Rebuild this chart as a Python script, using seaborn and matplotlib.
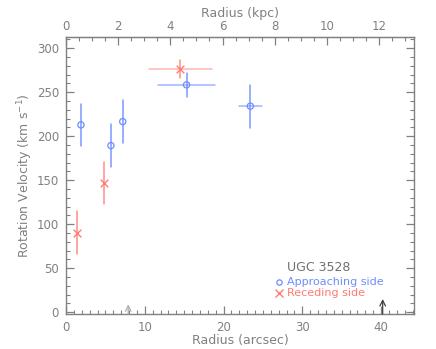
import numpy as np
import pandas as pd
import matplotlib
matplotlib.use("Agg")
import matplotlib.pyplot as plt
from matplotlib.ticker import MultipleLocator, FixedLocator
import seaborn as sns

# --- data ---
appr_r = [1.9, 5.7, 7.2, 15.3, 23.4]
appr_v = [212.8, 189.3, 216.6, 258.3, 234.1]
appr_verr = [24.3, 24.1, 24.2, 13.3, 24.3]
appr_rerr = [0.0, 0.0, 0.0, 3.6, 1.45]

rec_r = [1.4, 4.85, 14.5]
rec_v = [90.5, 146.6, 276.5]
rec_verr = [24.0, 24.2, 10.0]
rec_rerr = [0.0, 0.0, 4.0]

arrow_r = [7.9, 40.2]
arrow_len = [9, 15]
arrow_col = ["#b0b0b0", "#404040"]

KPC_PER_ARCSEC = 0.302
kpc_ticks = [0, 2, 4, 6, 8, 10, 12]
kpc_minor = [0.5 * i for i in range(27)]
galaxy = "UGC 3528"

BLUE = "#6f8cff"
RED = "#ff7b73"
GREY = "#808080"

sns.set_style("white")
plt.rcParams["font.family"] = ["DejaVu Sans"]

fig = plt.figure(figsize=(4.36, 3.49), dpi=100)
ax = fig.add_axes([0.1514, 0.1003, 0.7986, 0.7945])

# error bars
for r, v, ve, re_ in zip(appr_r, appr_v, appr_verr, appr_rerr):
    ax.plot([r, r], [v - ve, v + ve], color=BLUE, lw=1.1, alpha=0.9)
    if re_ > 0:
        ax.plot([r - re_, r + re_], [v, v], color=BLUE, lw=1.1, alpha=0.65)
for r, v, ve, re_ in zip(rec_r, rec_v, rec_verr, rec_rerr):
    ax.plot([r, r], [v - ve, v + ve], color=RED, lw=1.1, alpha=0.85)
    if re_ > 0:
        ax.plot([r - re_, r + re_], [v, v], color=RED, lw=1.1, alpha=0.55)

df_a = pd.DataFrame({"r": appr_r, "v": appr_v})
df_r = pd.DataFrame({"r": rec_r, "v": rec_v})
sns.scatterplot(data=df_a, x="r", y="v", ax=ax, marker="o", s=20,
                facecolor="none", edgecolor=BLUE, linewidth=0.9, zorder=3)
sns.scatterplot(data=df_r, x="r", y="v", ax=ax, marker="x", s=30,
                color=RED, linewidth=1.0, zorder=3)

for r, l, c in zip(arrow_r, arrow_len, arrow_col):
    ax.annotate("", xy=(r, l), xytext=(r, -2),
                arrowprops=dict(arrowstyle="->", color=c, lw=0.9,
                                shrinkA=0, shrinkB=0))

ax.set_xlim(0, 44.2)
ax.set_ylim(-2, 313)

ax.xaxis.set_major_locator(MultipleLocator(10))
ax.xaxis.set_minor_locator(MultipleLocator(1))
ax.yaxis.set_major_locator(MultipleLocator(50))
ax.yaxis.set_minor_locator(MultipleLocator(10))

for s in ax.spines.values():
    s.set_color(GREY)
    s.set_linewidth(1.0)

ax.tick_params(which="both", direction="in", colors=GREY, labelcolor=GREY,
               labelsize=8.5, right=True, left=True, bottom=True)
ax.tick_params(which="major", length=6, width=0.9)
ax.tick_params(which="minor", length=3, width=0.8)
ax.tick_params(axis="x", pad=5)
ax.tick_params(axis="y", pad=5)

ax.set_xlabel("Radius (arcsec)", color=GREY, fontsize=9, labelpad=0)
ax.set_ylabel("Rotation Velocity (km s$^{-1}$)", color=GREY, fontsize=9, labelpad=1)

top = ax.secondary_xaxis("top", functions=(lambda x: x * KPC_PER_ARCSEC,
                                           lambda x: x / KPC_PER_ARCSEC))
top.xaxis.set_major_locator(FixedLocator(kpc_ticks))
top.xaxis.set_minor_locator(FixedLocator(kpc_minor))
top.tick_params(which="both", direction="in", colors=GREY, labelcolor=GREY,
                labelsize=8.5, pad=3)
top.tick_params(which="major", length=6, width=0.9)
top.tick_params(which="minor", length=3, width=0.8)
top.spines["top"].set_color(GREY)
top.set_xlabel("Radius (kpc)", color=GREY, fontsize=9, labelpad=2)

# legend block
ax.text(0.6345, 0.166, galaxy, transform=ax.transAxes, color="#707070",
        fontsize=9, ha="left", va="center")
ax.plot([27.0], [34], marker="o", ms=3.8, mfc="none", mec=BLUE, mew=0.9, ls="none")
ax.text(0.6345, 0.114, "Approaching side", transform=ax.transAxes, color=BLUE,
        fontsize=8, ha="left", va="center")
ax.plot([27.0], [22.3], marker="x", ms=6, color=RED, mew=1.0, ls="none")
ax.text(0.6345, 0.077, "Receding side", transform=ax.transAxes, color=RED,
        fontsize=8, ha="left", va="center")

fig.savefig("out.png", dpi=100)
